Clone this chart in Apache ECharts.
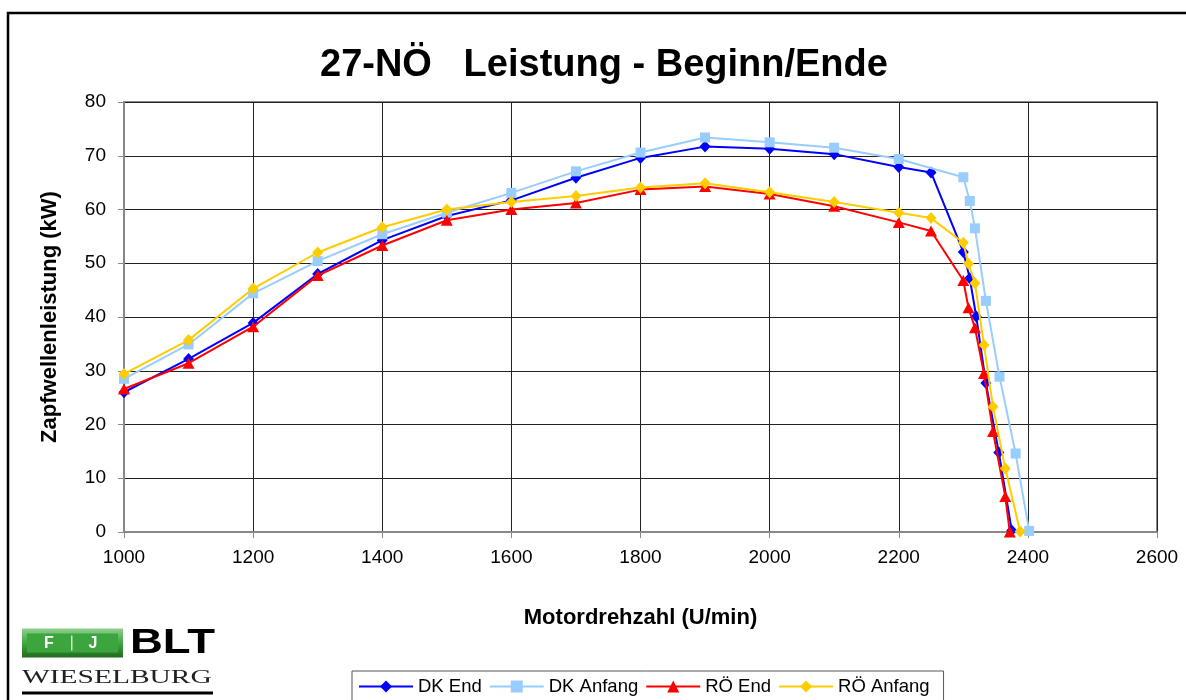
<!DOCTYPE html>
<html>
<head>
<meta charset="utf-8">
<script src="https://cdn.jsdelivr.net/npm/echarts@6/dist/echarts.min.js"></script>
<style>html,body{margin:0;padding:0;background:#fff}#c{width:1186px;height:700px}</style>
</head>
<body>
<div id="c"></div>
<script>
const chartTitle = '27-NÖ   Leistung - Beginn/Ende';
const xAxisName = 'Motordrehzahl (U/min)';
const yAxisName = 'Zapfwellenleistung (kW)';
const seriesNames = ['DK End', 'DK Anfang', 'RÖ End', 'RÖ Anfang'];

const dkEndRpm = [1000,1100,1200,1300,1400,1500,1600,1700,1800,1900,2000,2100,2200,2250,2300,2310,2320,2335,2355,2375];
const dkEndKw  = [26.0,32.2,38.9,48.0,54.3,58.8,61.7,65.9,69.6,71.7,71.3,70.3,67.9,66.9,52.1,47.2,40.1,27.7,14.8,0.3];

const dkAnfRpm = [1000,1100,1200,1300,1400,1500,1600,1700,1800,1900,2000,2100,2200,2300,2310,2318,2335,2356,2381,2402];
const dkAnfKw  = [28.5,34.9,44.4,50.4,55.4,59.4,63.1,67.1,70.6,73.4,72.5,71.5,69.4,66.0,61.6,56.5,43.0,28.9,14.6,0.2];

const roEndRpm = [1000,1100,1200,1300,1400,1500,1600,1700,1800,1900,2000,2100,2200,2250,2300,2308,2318,2332,2346,2365,2372];
const roEndKw  = [26.6,31.4,38.2,47.7,53.3,58.0,60.0,61.2,63.7,64.3,62.9,60.6,57.6,56.0,46.8,41.7,38.0,29.5,18.7,6.6,0.0];

const roAnfRpm = [1000,1100,1200,1300,1400,1500,1600,1700,1800,1900,2000,2100,2200,2250,2300,2308,2318,2332,2346,2365,2388];
const roAnfKw  = [29.4,35.7,45.3,52.0,56.7,60.0,61.4,62.5,64.1,64.9,63.2,61.4,59.4,58.4,53.8,49.9,46.3,34.8,23.3,11.8,0.1];

const xTicks = {min: 1000, max: 2600, interval: 200};
const yTicks = {min: 0, max: 80, interval: 10};

function pairs(xs, ys) { return xs.map((x, i) => [x, ys[i]]); }

const FONT = '"Liberation Sans", Arial, sans-serif';
const styles = [
  {color: '#0000FF', symbol: 'diamond', size: [11, 12]},
  {color: '#99CCFF', symbol: 'rect', size: 10},
  {color: '#FF0000', symbol: 'triangle', size: [12, 11]},
  {color: '#FFCC00', symbol: 'diamond', size: [11, 12]}
];
const datasets = [pairs(dkEndRpm, dkEndKw), pairs(dkAnfRpm, dkAnfKw), pairs(roEndRpm, roEndKw), pairs(roAnfRpm, roAnfKw)];

const chart = echarts.init(document.getElementById('c'), null, {renderer: 'canvas'});
chart.setOption({
  animation: false,
  backgroundColor: '#fff',
  title: {
    text: chartTitle,
    left: 315, top: 42,
    textStyle: {fontFamily: FONT, fontWeight: 'bold', fontSize: 38, color: '#000'}
  },
  grid: {left: 124, right: 29, top: 102, bottom: 168, show: true, borderColor: '#888', borderWidth: 2, backgroundColor: '#fff'},
  xAxis: {
    type: 'value', min: xTicks.min, max: xTicks.max, interval: xTicks.interval,
    name: xAxisName, nameLocation: 'middle', nameGap: 75,
    nameTextStyle: {fontFamily: FONT, fontWeight: 'bold', fontSize: 22, color: '#000'},
    axisLine: {show: true, lineStyle: {color: '#888', width: 2}},
    axisTick: {show: true, length: 6, lineStyle: {color: '#888'}},
    axisLabel: {fontFamily: FONT, fontSize: 19, color: '#000', margin: 16, formatter: v => String(v)},
    splitLine: {show: true, lineStyle: {color: '#222', width: 1}}
  },
  yAxis: {
    type: 'value', min: yTicks.min, max: yTicks.max, interval: yTicks.interval,
    name: yAxisName, nameLocation: 'middle', nameGap: 63,
    nameTextStyle: {fontFamily: FONT, fontWeight: 'bold', fontSize: 22, color: '#000'},
    axisLine: {show: true, lineStyle: {color: '#888', width: 2}},
    axisTick: {show: true, length: 6, lineStyle: {color: '#888'}},
    axisLabel: {fontFamily: FONT, fontSize: 19, color: '#000', margin: 18},
    splitLine: {show: true, lineStyle: {color: '#222', width: 1}}
  },
  legend: {
    left: 352, top: 671,
    data: seriesNames,
    itemWidth: 54, itemHeight: 15, itemGap: 7,
    padding: [6, 14, 12, 6],
    borderColor: '#555', borderWidth: 1,
    backgroundColor: '#fff',
    textStyle: {fontFamily: FONT, fontSize: 18.5, color: '#000'}
  },
  series: seriesNames.map((n, i) => ({
    name: n, type: 'line', data: datasets[i],
    symbol: styles[i].symbol, symbolSize: styles[i].size, showSymbol: true,
    lineStyle: {color: styles[i].color, width: 2},
    itemStyle: {color: styles[i].color},
    z: 3 + i
  })),
  graphic: [
    {type: 'rect', shape: {x: 8, y: 13, width: 1300, height: 800}, style: {fill: null, stroke: '#000', lineWidth: 2.5}, silent: true, z: 100},
    {type: 'group', left: 22, top: 626, children: [
      {type: 'rect', shape: {x: 0, y: 0, width: 101, height: 29},
       style: {fill: new echarts.graphic.LinearGradient(0, 0, 0, 1, [{offset: 0, color: '#8fd08f'}, {offset: 0.5, color: '#3fa83f'}, {offset: 1, color: '#1f6b1f'}])}},
      {type: 'rect', shape: {x: 5, y: 5, width: 91, height: 19}, style: {fill: '#3da53d'}},
      {type: 'text', style: {x: 27, y: 15, text: 'F', fill: '#fff', font: 'bold 16px ' + FONT, textAlign: 'center', textVerticalAlign: 'middle'}},
      {type: 'rect', shape: {x: 49, y: 7, width: 1.5, height: 15}, style: {fill: '#cfe9cf'}},
      {type: 'text', style: {x: 71, y: 15, text: 'J', fill: '#fff', font: 'bold 16px ' + FONT, textAlign: 'center', textVerticalAlign: 'middle'}},
      {type: 'text', x: 108, y: 15, scaleX: 1.3, style: {x: 0, y: 0, text: 'BLT', fill: '#000', font: '900 35px ' + FONT, textVerticalAlign: 'middle'}},
      {type: 'text', x: 0, y: 50, scaleX: 1.55, style: {x: 0, y: 0, text: 'WIESELBURG', fill: '#222', font: '19px "Liberation Serif", "DejaVu Serif", serif', textVerticalAlign: 'middle'}},
      {type: 'rect', shape: {x: 0, y: 63, width: 191, height: 3}, style: {fill: '#000'}}
    ]}
  ]
});
</script>
</body>
</html>
